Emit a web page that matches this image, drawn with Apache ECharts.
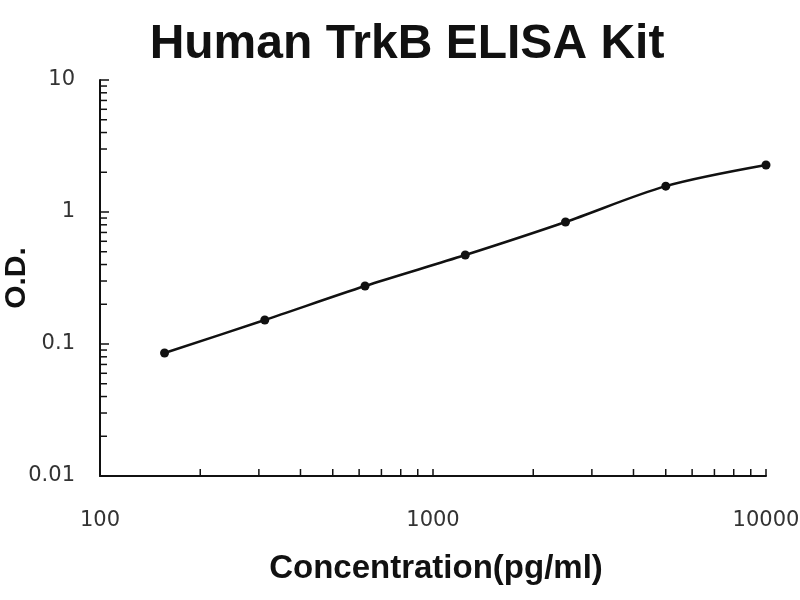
<!DOCTYPE html>
<html>
<head>
<meta charset="utf-8">
<script src="https://cdn.jsdelivr.net/npm/echarts@6/dist/echarts.min.js"></script>
<style>html,body{margin:0;padding:0;background:#fff}#c{width:800px;height:600px}</style>
</head>
<body>
<div id="c"></div>
<script>
var concentrations = [156.25, 312.5, 625, 1250, 2500, 5000, 10000];
var odValues = [0.0855, 0.152, 0.275, 0.472, 0.84, 1.57, 2.27];
var yMinorTicks = [0.02,0.03,0.04,0.05,0.06,0.07,0.08,0.09,0.2,0.3,0.4,0.5,0.6,0.7,0.8,0.9,2,3,4,5,6,7,8,9];
var xMinorTicks = [200,300,400,500,600,700,800,900,2000,3000,4000,5000,6000,7000,8000,9000];
var xRange = [100, 10000];
var yRange = [0.01, 10];

var chart = echarts.init(document.getElementById('c'));
var labelFont = {fontFamily: '"DejaVu Sans"', fontSize: 21, color: '#333'};
var option = {
  backgroundColor: '#fff',
  animation: false,
  title: {
    text: 'Human TrkB ELISA Kit',
    left: 402, top: 16, textAlign: 'center',
    textStyle: {fontFamily: 'Liberation Sans, Arial', fontWeight: 'bold', fontSize: 48, color: '#111'}
  },
  grid: {left: 100, right: 34, top: 80, bottom: 124, containLabel: false, outerBoundsMode: 'none'},
  xAxis: {
    type: 'log', logBase: 10, min: xRange[0], max: xRange[1],
    name: 'Concentration(pg/ml)', nameLocation: 'middle', nameGap: 76, nameMoveOverlap: false,
    nameTextStyle: {fontFamily: 'Liberation Sans, Arial', fontWeight: 'bold', fontSize: 33, color: '#111', padding: [0, 0, 0, 6]},
    axisLine: {lineStyle: {color: '#111', width: 2}},
    axisTick: {inside: true, length: 7, lineStyle: {color: '#111', width: 1.5}},
    axisLabel: Object.assign({margin: 34, formatter: function (v) { return String(v); }}, labelFont),
    splitLine: {show: false}
  },
  yAxis: {
    type: 'log', logBase: 10, min: yRange[0], max: yRange[1],
    name: 'O.D.', nameLocation: 'middle', nameGap: 68, nameRotate: 90, nameMoveOverlap: false,
    nameTextStyle: {fontFamily: 'Liberation Sans, Arial', fontWeight: 'bold', fontSize: 30, color: '#111'},
    axisLine: {show: true, lineStyle: {color: '#111', width: 2}},
    axisTick: {show: true, inside: true, length: 9, lineStyle: {color: '#111', width: 1.5}},
    axisLabel: Object.assign({margin: 25, formatter: function (v) { return String(v); }}, labelFont),
    splitLine: {show: false}
  },
  series: [
    {
      type: 'line', data: concentrations.map(function (c, i) { return [c, odValues[i]]; }),
      smooth: 0.3, symbol: 'circle', symbolSize: 9,
      lineStyle: {color: '#111', width: 2.5},
      itemStyle: {color: '#111'}
    },
    {
      type: 'custom', silent: true, clip: false,
      data: yMinorTicks.map(function (v) { return [xRange[0], v]; }),
      renderItem: function (params, api) {
        var p = api.coord([api.value(0), api.value(1)]);
        return {type: 'line', shape: {x1: p[0], y1: p[1], x2: p[0] + 7, y2: p[1]}, style: {stroke: '#111', lineWidth: 1.5}};
      }
    },
    {
      type: 'custom', silent: true, clip: false,
      data: xMinorTicks.map(function (v) { return [v, yRange[0]]; }),
      renderItem: function (params, api) {
        var p = api.coord([api.value(0), api.value(1)]);
        return {type: 'line', shape: {x1: p[0], y1: p[1], x2: p[0], y2: p[1] - 7}, style: {stroke: '#111', lineWidth: 1.5}};
      }
    }
  ]
};
chart.setOption(option);
</script>
</body>
</html>
